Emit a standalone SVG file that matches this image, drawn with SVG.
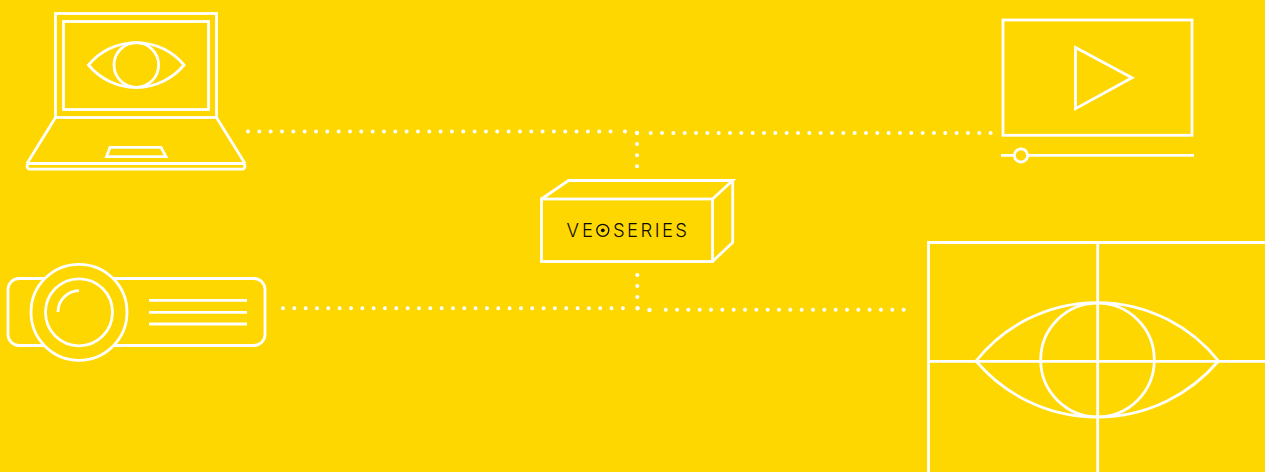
<svg xmlns="http://www.w3.org/2000/svg" width="1265" height="472" viewBox="0 0 1265 472">
<style>
.l{fill:none;stroke:#fff;stroke-width:2.8}
.f{fill:#FFD700;stroke:#fff;stroke-width:2.8}
.d{fill:none;stroke:#fff;stroke-width:4;stroke-linecap:round;stroke-dasharray:0 11.33}
.t{font-family:"Inter","Liberation Sans",sans-serif;font-size:18.5px;font-weight:300;fill:#0d0c02}
</style>
<rect width="1265" height="472" fill="#FFD700"/>
<g id="connectors">
<path class="d" d="M248 131.5H612"/>
<path class="d" d="M650.7 133H992"/>
<path class="d" d="M283 308.3H625"/>
<path class="d" d="M665.7 309.8H905"/>
<g fill="#fff">
<circle cx="625" cy="131.500" r="2.100"/>
<circle cx="637" cy="133" r="2.200"/>
<circle cx="637" cy="144" r="2"/>
<circle cx="637" cy="155.300" r="2"/>
<circle cx="637" cy="166.300" r="2"/>
<circle cx="637.300" cy="275" r="2.100"/>
<circle cx="637.300" cy="286" r="2"/>
<circle cx="637.300" cy="297" r="2"/>
<circle cx="637.500" cy="308.300" r="2.200"/>
<circle cx="649.500" cy="310" r="2.200"/>
</g>
</g>
<g id="laptop">
<rect class="l" x="55.500" y="13.500" width="161" height="104"/>
<rect class="l" x="63.500" y="21.500" width="145" height="88"/>
<path class="l" d="M88.500 65A62 62 0 0 1 184 65A62 62 0 0 1 88.500 65Z"/>
<circle class="l" cx="136.300" cy="65" r="22.300"/>
<path class="l" d="M55.500 117.500L27 163.500M216.500 117.500L245 163.500"/>
<rect class="l" x="27" y="163.500" width="218" height="5.600" rx="2.800"/>
<path class="l" d="M110 147.300H161L166 156.700H106.500Z"/>
</g>
<g id="projector">
<rect class="l" x="8" y="278.500" width="257" height="67" rx="11"/>
<circle class="f" cx="79" cy="312.300" r="48"/>
<circle class="l" cx="79" cy="312.300" r="33.500"/>
<path class="l" d="M58 312A21.300 21.300 0 0 1 79 290.700"/>
<path class="l" d="M149 300.300H247M149 312.300H247M149 324H247"/>
</g>
<g id="player">
<rect class="l" x="1003" y="20" width="189" height="115.300"/>
<path class="l" d="M1075.500 47.500L1132 77.800L1075.500 108.700Z"/>
<path class="l" d="M1001 155.400H1194"/>
<circle class="f" cx="1021" cy="155.400" r="6.600"/>
</g>
<g id="eye-frame">
<path class="l" d="M928.500 472V242.500H1265M928.500 361.300H1265M1097.700 242.500V472"/>
<path class="l" d="M976 361A155 155 0 0 1 1218.500 361A159 159 0 0 1 976 361Z"/>
<circle class="l" cx="1097.500" cy="360" r="56.800"/>
</g>
<g id="veoseries">
<rect class="l" x="541.500" y="199" width="171" height="62.500"/>
<path class="l" d="M541.500 199L568.500 180.500H732.700L712.500 199M732.700 180.500V242.500L712.500 261.500"/>
<text class="t" x="566.500" y="237" textLength="26.500" lengthAdjust="spacing">VE</text>
<circle cx="602.800" cy="230.300" r="6" fill="none" stroke="#0d0c02" stroke-width="1.300"/>
<circle cx="602.800" cy="230.300" r="1.900" fill="#0d0c02"/>
<text class="t" x="613" y="237" textLength="74" lengthAdjust="spacing">SERIES</text>
</g>
</svg>
